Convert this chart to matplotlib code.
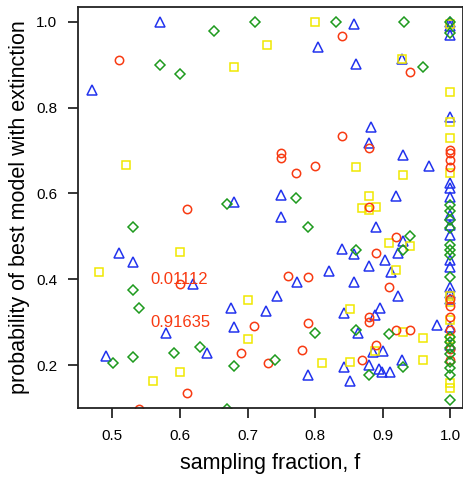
import matplotlib
matplotlib.use('Agg')
import matplotlib.pyplot as plt

# Data
circle_x = [0.510, 0.840, 0.941, 0.840, 0.880, 0.750, 0.750, 0.800, 0.771, 0.880,
            0.611, 0.920, 0.890, 0.760, 0.790, 0.600, 0.910, 0.880, 0.880, 0.710,
            0.790, 0.920, 0.940, 0.890, 0.780, 0.691, 0.730, 0.870, 0.611, 0.540,
            1.0, 1.0, 1.0, 1.0, 1.0, 1.0, 1.0, 1.0, 1.0, 1.0]
circle_y = [0.911, 0.967, 0.883, 0.734, 0.706, 0.694, 0.683, 0.664, 0.648, 0.569,
            0.564, 0.499, 0.462, 0.408, 0.406, 0.390, 0.383, 0.313, 0.301, 0.292,
            0.299, 0.283, 0.281, 0.248, 0.236, 0.229, 0.206, 0.211, 0.136, 0.098,
            0.702, 0.695, 0.678, 0.662, 0.353, 0.337, 0.313, 0.283, 0.237, 0.213]

square_x = [0.520, 0.680, 0.729, 0.800, 0.929, 0.860, 0.930, 0.880, 0.870, 0.880,
            0.890, 0.910, 0.940, 0.920, 0.600, 0.480, 0.700, 0.851, 0.930, 0.960,
            0.700, 0.888, 0.810, 0.851, 0.960, 0.600, 0.560,
            1.0, 1.0, 1.0, 1.0, 1.0, 1.0, 1.0, 1.0, 1.0, 1.0, 1.0]
square_y = [0.667, 0.895, 0.946, 1.000, 0.913, 0.662, 0.643, 0.595, 0.566, 0.562,
            0.569, 0.485, 0.478, 0.422, 0.464, 0.416, 0.352, 0.332, 0.278, 0.264,
            0.260, 0.233, 0.206, 0.208, 0.213, 0.185, 0.162,
            0.995, 0.836, 0.767, 0.729, 0.648, 0.360, 0.346, 0.306, 0.260, 0.159, 0.148]

diamond_x = [0.571, 0.600, 0.651, 0.711, 0.831, 0.931, 0.960, 0.771, 0.670, 0.790,
             0.531, 0.940, 0.930, 0.860, 0.531, 0.540, 0.800, 0.860, 0.910, 0.630,
             0.591, 0.531, 0.501, 0.740, 0.680, 0.930, 0.880, 0.670,
             1.0, 1.0, 1.0, 1.0, 1.0, 1.0, 1.0, 1.0, 1.0, 1.0, 1.0, 1.0, 1.0, 1.0,
             1.0, 1.0, 1.0, 1.0]
diamond_y = [0.899, 0.878, 0.978, 1.000, 1.000, 1.000, 0.895, 0.590, 0.576, 0.522,
             0.522, 0.501, 0.469, 0.469, 0.374, 0.334, 0.276, 0.283, 0.272, 0.243,
             0.229, 0.218, 0.206, 0.213, 0.197, 0.195, 0.176, 0.099,
             1.000, 0.974, 0.574, 0.558, 0.539, 0.520, 0.481, 0.469, 0.457, 0.406,
             0.266, 0.255, 0.241, 0.225, 0.208, 0.194, 0.178, 0.120]

triangle_x = [0.470, 0.571, 0.857, 0.805, 0.861, 0.929, 0.883, 0.880, 0.930, 0.968,
              0.750, 0.920, 0.680, 0.750, 0.890, 0.930, 0.923, 0.840, 0.857, 0.904,
              0.880, 0.820, 0.912, 0.773, 0.857, 0.923, 0.744, 0.727, 0.843, 0.896,
              0.889, 0.864, 0.981, 0.886, 0.900, 0.880, 0.843, 0.894, 0.899, 0.911,
              0.929, 0.790, 0.851, 0.510, 0.531, 0.620, 0.580, 0.640, 0.491, 0.676,
              0.680,
              1.0, 1.0, 1.0, 1.0, 1.0, 1.0, 1.0, 1.0, 1.0, 1.0, 1.0, 1.0, 1.0, 1.0,
              1.0, 1.0, 1.0]
triangle_y = [0.841, 1.000, 0.995, 0.941, 0.902, 0.913, 0.755, 0.718, 0.690, 0.664,
              0.597, 0.595, 0.581, 0.546, 0.522, 0.489, 0.462, 0.471, 0.459, 0.446,
              0.432, 0.420, 0.418, 0.394, 0.394, 0.362, 0.360, 0.327, 0.321, 0.334,
              0.317, 0.276, 0.294, 0.231, 0.233, 0.201, 0.195, 0.192, 0.183, 0.183,
              0.211, 0.176, 0.162, 0.462, 0.441, 0.388, 0.276, 0.229, 0.222, 0.334,
              0.290,
              1.000, 0.990, 0.969, 0.778, 0.625, 0.613, 0.592, 0.550, 0.527, 0.504,
              0.446, 0.429, 0.383, 0.369, 0.353, 0.290, 0.248]

notes = ['0.01112', '0.91635']
note_y = [0.399, 0.299]

plt.rcParams['font.family'] = ['Liberation Sans', 'DejaVu Sans']

fig = plt.figure(figsize=(4.64, 4.79), dpi=100)
ax = fig.add_axes([0.168, 0.148, 0.830, 0.838])

ax.plot(triangle_x, triangle_y, '^', ms=7, mfc='none', mec='#2233ee', mew=1.1, ls='none')
ax.plot(square_x, square_y, 's', ms=5.5, mfc='none', mec='#f0e800', mew=1.1, ls='none')
ax.plot(circle_x, circle_y, 'o', ms=6, mfc='none', mec='#f83a12', mew=1.1, ls='none')
ax.plot(diamond_x, diamond_y, 'D', ms=5.5, mfc='none', mec='#1e9a1e', mew=1.1, ls='none')

for txt, yy in zip(notes, note_y):
    ax.text(0.556, yy, txt, color='#f83a12', fontsize=12, va='center', ha='left')

ax.set_xlim(0.449, 1.019)
ax.set_ylim(0.10, 1.035)
ax.set_xticks([0.5, 0.6, 0.7, 0.8, 0.9, 1.0])
ax.set_xticklabels(['0.5', '0.6', '0.7', '0.8', '0.9', '1.0'])
ax.set_yticks([0.2, 0.4, 0.6, 0.8, 1.0])
ax.set_yticklabels(['0.2', '0.4', '0.6', '0.8', '1.0'])
ax.tick_params(length=7, width=1.1, labelsize=11, pad=8)
for s in ax.spines.values():
    s.set_linewidth(1.3)
    s.set_color('#222222')

ax.set_xlabel('sampling fraction, f', fontsize=15.5, labelpad=7)
ax.set_ylabel('probability of best model with extinction', fontsize=15.5, labelpad=4)

fig.savefig('out.png', dpi=100)
